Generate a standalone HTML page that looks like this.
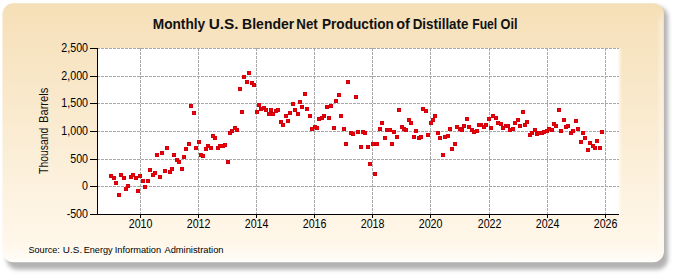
<!DOCTYPE html>
<html><head><meta charset="utf-8">
<style>
html,body{margin:0;padding:0;background:#fff;}
body{width:675px;height:275px;overflow:hidden;position:relative;}
svg{position:absolute;left:0;top:0;}
.g{stroke:#a8a8a8;stroke-width:1;stroke-dasharray:3 1;stroke-dashoffset:1;}
.v{stroke-dashoffset:0;}
.a{stroke:#000;stroke-width:1;}
.t{font-family:"Liberation Sans",sans-serif;font-size:12px;fill:#000;}
.ttl{font-family:"Liberation Sans",sans-serif;font-size:14px;font-weight:bold;fill:#111;}
.src{font-family:"Liberation Sans",sans-serif;font-size:9.6px;fill:#000;}
.yt{font-family:"Liberation Sans",sans-serif;font-size:12.3px;fill:#111;}
</style></head><body>
<svg width="675" height="275" viewBox="0 0 675 275">
<defs>
<linearGradient id="bg" x1="0" y1="0" x2="0" y2="1">
<stop offset="0" stop-color="#F5DFB7"/>
<stop offset="0.93" stop-color="#FFF7EA"/>
<stop offset="1" stop-color="#FFFDF9"/>
</linearGradient>
<linearGradient id="rf" x1="0" y1="0" x2="1" y2="0"><stop offset="0" stop-color="#fff" stop-opacity="1"/><stop offset="0.45" stop-color="#fff" stop-opacity="0.6"/><stop offset="1" stop-color="#fff" stop-opacity="0"/></linearGradient>
<linearGradient id="hl" x1="0" y1="0" x2="1" y2="0"><stop offset="0" stop-color="#fff" stop-opacity="0"/><stop offset="1" stop-color="#fff" stop-opacity="0.45"/></linearGradient>
<linearGradient id="hmg" x1="0" y1="0" x2="0" y2="1"><stop offset="0" stop-color="#fff" stop-opacity="0"/><stop offset="0.06" stop-color="#fff" stop-opacity="1"/><stop offset="0.94" stop-color="#fff" stop-opacity="1"/><stop offset="1" stop-color="#fff" stop-opacity="0"/></linearGradient>
<mask id="hm" maskUnits="userSpaceOnUse" x="650" y="0" width="25" height="275"><rect x="650" y="10" width="20" height="246" fill="url(#hmg)"/></mask>
<filter id="fb" x="-2%" y="-2%" width="104%" height="104%"><feGaussianBlur stdDeviation="0.7"/></filter>
<filter id="sh" x="-5%" y="-10%" width="110%" height="120%">
<feGaussianBlur stdDeviation="2.2"/>
</filter>
</defs>
<rect x="6.5" y="6.5" width="661.5" height="263" rx="11" fill="#b2b2b2" filter="url(#sh)"/>
<rect x="2.5" y="3.3" width="661.5" height="259" rx="11" fill="url(#bg)" filter="url(#fb)"/>
<rect x="656" y="10" width="6.5" height="246" fill="url(#hl)" mask="url(#hm)"/>
<rect x="12" y="258.3" width="645" height="3.5" fill="#fffefb" opacity="0.7" filter="url(#fb)"/>
<rect x="98" y="48" width="519" height="166" fill="#fff"/>
<rect x="617" y="48" width="5" height="166" fill="url(#rf)"/>
<line x1="98" y1="48.5" x2="619" y2="48.5" class="g"/>
<line x1="98" y1="76.5" x2="619" y2="76.5" class="g"/>
<line x1="98" y1="103.5" x2="619" y2="103.5" class="g"/>
<line x1="98" y1="131.5" x2="619" y2="131.5" class="g"/>
<line x1="98" y1="159.5" x2="619" y2="159.5" class="g"/>
<line x1="98" y1="186.5" x2="619" y2="186.5" class="g"/>
<line x1="140.5" y1="48" x2="140.5" y2="214" class="g v"/>
<line x1="198.5" y1="48" x2="198.5" y2="214" class="g v"/>
<line x1="256.5" y1="48" x2="256.5" y2="214" class="g v"/>
<line x1="314.5" y1="48" x2="314.5" y2="214" class="g v"/>
<line x1="372.5" y1="48" x2="372.5" y2="214" class="g v"/>
<line x1="430.5" y1="48" x2="430.5" y2="214" class="g v"/>
<line x1="489.5" y1="48" x2="489.5" y2="214" class="g v"/>
<line x1="547.5" y1="48" x2="547.5" y2="214" class="g v"/>
<line x1="605.5" y1="48" x2="605.5" y2="214" class="g v"/>
<line x1="97.5" y1="48" x2="97.5" y2="214.5" class="a"/>
<line x1="90" y1="214.5" x2="619" y2="214.5" class="a"/>
<line x1="90" y1="48.5" x2="98" y2="48.5" class="a"/>
<line x1="90" y1="76.5" x2="98" y2="76.5" class="a"/>
<line x1="90" y1="103.5" x2="98" y2="103.5" class="a"/>
<line x1="90" y1="131.5" x2="98" y2="131.5" class="a"/>
<line x1="90" y1="159.5" x2="98" y2="159.5" class="a"/>
<line x1="90" y1="186.5" x2="98" y2="186.5" class="a"/>
<line x1="90" y1="214.5" x2="98" y2="214.5" class="a"/>
<line x1="140.5" y1="214" x2="140.5" y2="218" class="a"/>
<line x1="198.5" y1="214" x2="198.5" y2="218" class="a"/>
<line x1="256.5" y1="214" x2="256.5" y2="218" class="a"/>
<line x1="314.5" y1="214" x2="314.5" y2="218" class="a"/>
<line x1="372.5" y1="214" x2="372.5" y2="218" class="a"/>
<line x1="430.5" y1="214" x2="430.5" y2="218" class="a"/>
<line x1="489.5" y1="214" x2="489.5" y2="218" class="a"/>
<line x1="547.5" y1="214" x2="547.5" y2="218" class="a"/>
<line x1="605.5" y1="214" x2="605.5" y2="218" class="a"/>
<text transform="translate(88,51.6) scale(0.89,1)" text-anchor="end" class="t">2,500</text>
<text transform="translate(88,79.6) scale(0.89,1)" text-anchor="end" class="t">2,000</text>
<text transform="translate(88,106.6) scale(0.89,1)" text-anchor="end" class="t">1,500</text>
<text transform="translate(88,134.6) scale(0.89,1)" text-anchor="end" class="t">1,000</text>
<text transform="translate(88,162.6) scale(0.89,1)" text-anchor="end" class="t">500</text>
<text transform="translate(88,189.6) scale(0.89,1)" text-anchor="end" class="t">0</text>
<text transform="translate(88,217.6) scale(0.89,1)" text-anchor="end" class="t">-500</text>
<text transform="translate(140.6,227.6) scale(0.89,1)" text-anchor="middle" class="t">2010</text>
<text transform="translate(198.6,227.6) scale(0.89,1)" text-anchor="middle" class="t">2012</text>
<text transform="translate(256.6,227.6) scale(0.89,1)" text-anchor="middle" class="t">2014</text>
<text transform="translate(314.6,227.6) scale(0.89,1)" text-anchor="middle" class="t">2016</text>
<text transform="translate(372.6,227.6) scale(0.89,1)" text-anchor="middle" class="t">2018</text>
<text transform="translate(430.6,227.6) scale(0.89,1)" text-anchor="middle" class="t">2020</text>
<text transform="translate(489.6,227.6) scale(0.89,1)" text-anchor="middle" class="t">2022</text>
<text transform="translate(547.6,227.6) scale(0.89,1)" text-anchor="middle" class="t">2024</text>
<text transform="translate(605.6,227.6) scale(0.89,1)" text-anchor="middle" class="t">2026</text>
<g fill="#f50000" stroke="#d2000e" stroke-width="1">
<rect x="109.5" y="174.5" width="3" height="3"/>
<rect x="112.5" y="176.5" width="3" height="3"/>
<rect x="114.5" y="181.5" width="3" height="3"/>
<rect x="117.5" y="193.5" width="3" height="3"/>
<rect x="119.5" y="173.5" width="3" height="3"/>
<rect x="122.5" y="176.5" width="3" height="3"/>
<rect x="124.5" y="187.5" width="3" height="3"/>
<rect x="126.5" y="184.5" width="3" height="3"/>
<rect x="129.5" y="175.5" width="3" height="3"/>
<rect x="131.5" y="173.5" width="3" height="3"/>
<rect x="134.5" y="176.5" width="3" height="3"/>
<rect x="136.5" y="189.5" width="3" height="3"/>
<rect x="138.5" y="174.5" width="3" height="3"/>
<rect x="141.5" y="179.5" width="3" height="3"/>
<rect x="143.5" y="185.5" width="3" height="3"/>
<rect x="146.5" y="179.5" width="3" height="3"/>
<rect x="148.5" y="168.5" width="3" height="3"/>
<rect x="151.5" y="173.5" width="3" height="3"/>
<rect x="153.5" y="171.5" width="3" height="3"/>
<rect x="155.5" y="153.5" width="3" height="3"/>
<rect x="158.5" y="175.5" width="3" height="3"/>
<rect x="160.5" y="151.5" width="3" height="3"/>
<rect x="163.5" y="169.5" width="3" height="3"/>
<rect x="165.5" y="146.5" width="3" height="3"/>
<rect x="168.5" y="170.5" width="3" height="3"/>
<rect x="170.5" y="167.5" width="3" height="3"/>
<rect x="172.5" y="153.5" width="3" height="3"/>
<rect x="175.5" y="158.5" width="3" height="3"/>
<rect x="177.5" y="160.5" width="3" height="3"/>
<rect x="180.5" y="167.5" width="3" height="3"/>
<rect x="182.5" y="155.5" width="3" height="3"/>
<rect x="184.5" y="147.5" width="3" height="3"/>
<rect x="187.5" y="142.5" width="3" height="3"/>
<rect x="189.5" y="104.5" width="3" height="3"/>
<rect x="192.5" y="111.5" width="3" height="3"/>
<rect x="194.5" y="146.5" width="3" height="3"/>
<rect x="197.5" y="140.5" width="3" height="3"/>
<rect x="199.5" y="153.5" width="3" height="3"/>
<rect x="201.5" y="154.5" width="3" height="3"/>
<rect x="204.5" y="147.5" width="3" height="3"/>
<rect x="206.5" y="144.5" width="3" height="3"/>
<rect x="209.5" y="146.5" width="3" height="3"/>
<rect x="211.5" y="134.5" width="3" height="3"/>
<rect x="213.5" y="136.5" width="3" height="3"/>
<rect x="216.5" y="146.5" width="3" height="3"/>
<rect x="218.5" y="144.5" width="3" height="3"/>
<rect x="221.5" y="144.5" width="3" height="3"/>
<rect x="223.5" y="143.5" width="3" height="3"/>
<rect x="226.5" y="160.5" width="3" height="3"/>
<rect x="228.5" y="131.5" width="3" height="3"/>
<rect x="230.5" y="129.5" width="3" height="3"/>
<rect x="233.5" y="126.5" width="3" height="3"/>
<rect x="235.5" y="128.5" width="3" height="3"/>
<rect x="238.5" y="87.5" width="3" height="3"/>
<rect x="240.5" y="110.5" width="3" height="3"/>
<rect x="242.5" y="75.5" width="3" height="3"/>
<rect x="245.5" y="80.5" width="3" height="3"/>
<rect x="247.5" y="71.5" width="3" height="3"/>
<rect x="250.5" y="81.5" width="3" height="3"/>
<rect x="252.5" y="83.5" width="3" height="3"/>
<rect x="255.5" y="110.5" width="3" height="3"/>
<rect x="257.5" y="103.5" width="3" height="3"/>
<rect x="259.5" y="107.5" width="3" height="3"/>
<rect x="262.5" y="106.5" width="3" height="3"/>
<rect x="264.5" y="108.5" width="3" height="3"/>
<rect x="267.5" y="112.5" width="3" height="3"/>
<rect x="269.5" y="108.5" width="3" height="3"/>
<rect x="271.5" y="112.5" width="3" height="3"/>
<rect x="274.5" y="109.5" width="3" height="3"/>
<rect x="276.5" y="108.5" width="3" height="3"/>
<rect x="279.5" y="120.5" width="3" height="3"/>
<rect x="281.5" y="123.5" width="3" height="3"/>
<rect x="284.5" y="114.5" width="3" height="3"/>
<rect x="286.5" y="119.5" width="3" height="3"/>
<rect x="288.5" y="111.5" width="3" height="3"/>
<rect x="291.5" y="102.5" width="3" height="3"/>
<rect x="293.5" y="108.5" width="3" height="3"/>
<rect x="296.5" y="112.5" width="3" height="3"/>
<rect x="298.5" y="100.5" width="3" height="3"/>
<rect x="300.5" y="105.5" width="3" height="3"/>
<rect x="303.5" y="92.5" width="3" height="3"/>
<rect x="305.5" y="107.5" width="3" height="3"/>
<rect x="308.5" y="114.5" width="3" height="3"/>
<rect x="310.5" y="127.5" width="3" height="3"/>
<rect x="313.5" y="125.5" width="3" height="3"/>
<rect x="315.5" y="126.5" width="3" height="3"/>
<rect x="317.5" y="117.5" width="3" height="3"/>
<rect x="320.5" y="116.5" width="3" height="3"/>
<rect x="322.5" y="114.5" width="3" height="3"/>
<rect x="325.5" y="105.5" width="3" height="3"/>
<rect x="327.5" y="116.5" width="3" height="3"/>
<rect x="329.5" y="104.5" width="3" height="3"/>
<rect x="332.5" y="126.5" width="3" height="3"/>
<rect x="334.5" y="99.5" width="3" height="3"/>
<rect x="337.5" y="93.5" width="3" height="3"/>
<rect x="339.5" y="114.5" width="3" height="3"/>
<rect x="342.5" y="127.5" width="3" height="3"/>
<rect x="344.5" y="142.5" width="3" height="3"/>
<rect x="346.5" y="80.5" width="3" height="3"/>
<rect x="349.5" y="131.5" width="3" height="3"/>
<rect x="351.5" y="132.5" width="3" height="3"/>
<rect x="354.5" y="95.5" width="3" height="3"/>
<rect x="356.5" y="130.5" width="3" height="3"/>
<rect x="359.5" y="145.5" width="3" height="3"/>
<rect x="361.5" y="130.5" width="3" height="3"/>
<rect x="363.5" y="131.5" width="3" height="3"/>
<rect x="366.5" y="145.5" width="3" height="3"/>
<rect x="368.5" y="162.5" width="3" height="3"/>
<rect x="371.5" y="142.5" width="3" height="3"/>
<rect x="373.5" y="172.5" width="3" height="3"/>
<rect x="375.5" y="142.5" width="3" height="3"/>
<rect x="378.5" y="127.5" width="3" height="3"/>
<rect x="380.5" y="121.5" width="3" height="3"/>
<rect x="383.5" y="136.5" width="3" height="3"/>
<rect x="385.5" y="128.5" width="3" height="3"/>
<rect x="388.5" y="128.5" width="3" height="3"/>
<rect x="390.5" y="142.5" width="3" height="3"/>
<rect x="392.5" y="130.5" width="3" height="3"/>
<rect x="395.5" y="135.5" width="3" height="3"/>
<rect x="397.5" y="108.5" width="3" height="3"/>
<rect x="400.5" y="125.5" width="3" height="3"/>
<rect x="402.5" y="127.5" width="3" height="3"/>
<rect x="404.5" y="128.5" width="3" height="3"/>
<rect x="407.5" y="118.5" width="3" height="3"/>
<rect x="409.5" y="121.5" width="3" height="3"/>
<rect x="412.5" y="135.5" width="3" height="3"/>
<rect x="414.5" y="129.5" width="3" height="3"/>
<rect x="417.5" y="136.5" width="3" height="3"/>
<rect x="419.5" y="135.5" width="3" height="3"/>
<rect x="421.5" y="107.5" width="3" height="3"/>
<rect x="424.5" y="109.5" width="3" height="3"/>
<rect x="426.5" y="133.5" width="3" height="3"/>
<rect x="429.5" y="121.5" width="3" height="3"/>
<rect x="431.5" y="118.5" width="3" height="3"/>
<rect x="433.5" y="114.5" width="3" height="3"/>
<rect x="436.5" y="131.5" width="3" height="3"/>
<rect x="438.5" y="136.5" width="3" height="3"/>
<rect x="441.5" y="153.5" width="3" height="3"/>
<rect x="443.5" y="135.5" width="3" height="3"/>
<rect x="446.5" y="134.5" width="3" height="3"/>
<rect x="448.5" y="127.5" width="3" height="3"/>
<rect x="450.5" y="147.5" width="3" height="3"/>
<rect x="453.5" y="142.5" width="3" height="3"/>
<rect x="455.5" y="125.5" width="3" height="3"/>
<rect x="458.5" y="127.5" width="3" height="3"/>
<rect x="460.5" y="128.5" width="3" height="3"/>
<rect x="462.5" y="124.5" width="3" height="3"/>
<rect x="465.5" y="117.5" width="3" height="3"/>
<rect x="467.5" y="125.5" width="3" height="3"/>
<rect x="470.5" y="128.5" width="3" height="3"/>
<rect x="472.5" y="130.5" width="3" height="3"/>
<rect x="475.5" y="129.5" width="3" height="3"/>
<rect x="477.5" y="123.5" width="3" height="3"/>
<rect x="479.5" y="123.5" width="3" height="3"/>
<rect x="482.5" y="125.5" width="3" height="3"/>
<rect x="484.5" y="123.5" width="3" height="3"/>
<rect x="487.5" y="117.5" width="3" height="3"/>
<rect x="489.5" y="126.5" width="3" height="3"/>
<rect x="491.5" y="114.5" width="3" height="3"/>
<rect x="494.5" y="116.5" width="3" height="3"/>
<rect x="496.5" y="121.5" width="3" height="3"/>
<rect x="499.5" y="122.5" width="3" height="3"/>
<rect x="501.5" y="126.5" width="3" height="3"/>
<rect x="504.5" y="124.5" width="3" height="3"/>
<rect x="506.5" y="124.5" width="3" height="3"/>
<rect x="508.5" y="128.5" width="3" height="3"/>
<rect x="511.5" y="127.5" width="3" height="3"/>
<rect x="513.5" y="121.5" width="3" height="3"/>
<rect x="516.5" y="118.5" width="3" height="3"/>
<rect x="518.5" y="124.5" width="3" height="3"/>
<rect x="521.5" y="110.5" width="3" height="3"/>
<rect x="523.5" y="123.5" width="3" height="3"/>
<rect x="525.5" y="120.5" width="3" height="3"/>
<rect x="528.5" y="133.5" width="3" height="3"/>
<rect x="530.5" y="131.5" width="3" height="3"/>
<rect x="533.5" y="128.5" width="3" height="3"/>
<rect x="535.5" y="132.5" width="3" height="3"/>
<rect x="537.5" y="131.5" width="3" height="3"/>
<rect x="540.5" y="131.5" width="3" height="3"/>
<rect x="542.5" y="130.5" width="3" height="3"/>
<rect x="545.5" y="129.5" width="3" height="3"/>
<rect x="547.5" y="127.5" width="3" height="3"/>
<rect x="550.5" y="128.5" width="3" height="3"/>
<rect x="552.5" y="122.5" width="3" height="3"/>
<rect x="554.5" y="124.5" width="3" height="3"/>
<rect x="557.5" y="108.5" width="3" height="3"/>
<rect x="559.5" y="129.5" width="3" height="3"/>
<rect x="562.5" y="118.5" width="3" height="3"/>
<rect x="564.5" y="125.5" width="3" height="3"/>
<rect x="566.5" y="124.5" width="3" height="3"/>
<rect x="569.5" y="131.5" width="3" height="3"/>
<rect x="571.5" y="129.5" width="3" height="3"/>
<rect x="574.5" y="119.5" width="3" height="3"/>
<rect x="576.5" y="127.5" width="3" height="3"/>
<rect x="579.5" y="140.5" width="3" height="3"/>
<rect x="581.5" y="131.5" width="3" height="3"/>
<rect x="583.5" y="136.5" width="3" height="3"/>
<rect x="586.5" y="148.5" width="3" height="3"/>
<rect x="588.5" y="141.5" width="3" height="3"/>
<rect x="591.5" y="144.5" width="3" height="3"/>
<rect x="593.5" y="146.5" width="3" height="3"/>
<rect x="595.5" y="139.5" width="3" height="3"/>
<rect x="598.5" y="146.5" width="3" height="3"/>
<rect x="600.5" y="130.5" width="3" height="3"/>
</g>
<text transform="translate(152.72,29) scale(0.979,1)" class="ttl">Monthly</text>
<text transform="translate(208.7,29) scale(1.1,1)" class="ttl">U.S.</text>
<text transform="translate(242.1,29) scale(1.002,1)" class="ttl">Blender</text>
<text transform="translate(296.35,29) scale(0.95,1)" class="ttl">Net</text>
<text transform="translate(321.92,29) scale(0.975,1)" class="ttl">Production</text>
<text transform="translate(396.2,29) scale(1.031,1)" class="ttl">of</text>
<text transform="translate(412.64,29) scale(0.958,1)" class="ttl">Distillate</text>
<text transform="translate(472.23,29) scale(0.87,1)" class="ttl">Fuel</text>
<text transform="translate(500.6,29) scale(0.911,1)" class="ttl">Oil</text>
<text transform="translate(28.45,253) scale(0.95,1)" class="src">Source:</text>
<text transform="translate(62.86,253) scale(1.035,1)" class="src">U.S.</text>
<text transform="translate(83.64,253) scale(0.955,1)" class="src">Energy</text>
<text transform="translate(114.73,253) scale(0.966,1)" class="src">Information</text>
<text transform="translate(164.4,253) scale(0.973,1)" class="src">Administration</text>
<text transform="translate(47.6,173.9) rotate(-90) scale(0.845,1)" class="yt">Thousand</text>
<text transform="translate(47.6,123) rotate(-90) scale(0.907,1)" class="yt">Barrels</text>
</svg>
</body></html>
